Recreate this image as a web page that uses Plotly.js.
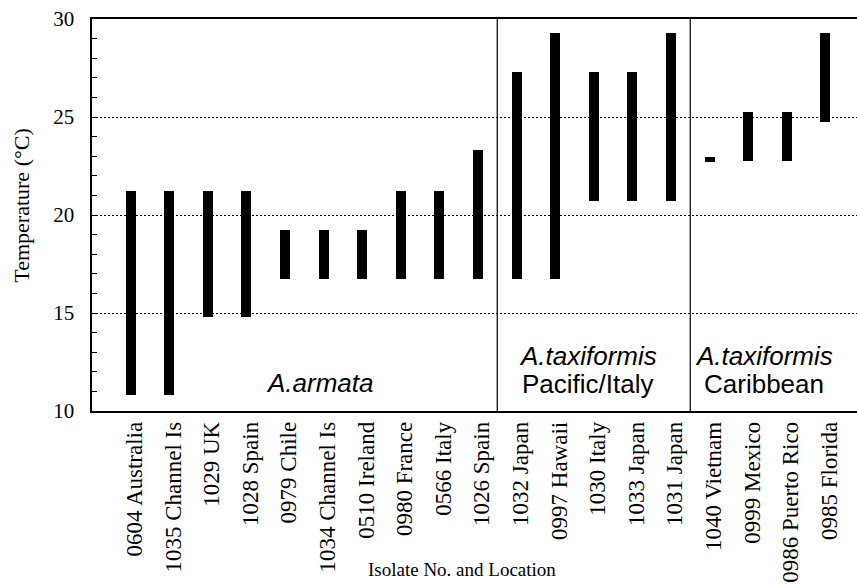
<!DOCTYPE html>
<html>
<head>
<meta charset="utf-8">
<script src="https://cdn.plot.ly/plotly-3.0.1.min.js"></script>
<style>
html,body{margin:0;padding:0;background:#fff;overflow:hidden;}
#chart{width:862px;height:585px;}
</style>
</head>
<body>
<div id="chart"></div>
<script>
// Isolates (x categories)
const isolates = [
  "0604 Australia", "1035 Channel Is", "1029 UK", "1028 Spain", "0979 Chile",
  "1034 Channel Is", "0510 Ireland", "0980 France", "0566 Italy", "1026 Spain",
  "1032 Japan", "0997 Hawaii", "1030 Italy", "1033 Japan", "1031 Japan",
  "1040 Vietnam", "0999 Mexico", "0986 Puerto Rico", "0985 Florida"
];
// Temperature range (°C) for each isolate
const tempLow  = [10.8, 10.8, 14.8, 14.8, 16.75, 16.75, 16.75, 16.75, 16.75, 16.75,
                  16.75, 16.75, 20.7, 20.7, 20.7, 22.72, 22.75, 22.75, 24.75];
const tempHigh = [21.2, 21.2, 21.2, 21.2, 19.25, 19.25, 19.25, 21.2, 21.2, 23.3,
                  27.3, 29.3, 27.3, 27.3, 29.3, 22.95, 25.25, 25.25, 29.3];
// Groups (number of isolates in each)
const groupNames = ["A.armata", "A.taxiformis Pacific/Italy", "A.taxiformis Caribbean"];
const groupSizes = [10, 5, 4];
const yTicks = [10, 15, 20, 25, 30];

const spans = tempHigh.map((h, i) => h - tempLow[i]);

const trace = {
  type: "bar",
  x: isolates,
  y: spans,
  base: tempLow,
  width: 0.26,
  marker: {color: "#000", line: {width: 0}},
  hoverinfo: "skip"
};

// divider lines between groups
const shapes = [];
let cum = 0;
for (let g = 0; g < groupSizes.length - 1; g++) {
  cum += groupSizes[g];
  shapes.push({
    type: "line", xref: "x", yref: "paper",
    x0: cum - 0.5, x1: cum - 0.5, y0: 0, y1: 1,
    line: {color: "#000", width: 1.2}
  });
}

const sans = "Liberation Sans, Arial, sans-serif";
const serif = "Liberation Serif, Times New Roman, serif";

const annotations = [
  {text: "<i>A.armata</i>", x: 4.92, y: 11.44, xref: "x", yref: "y",
   showarrow: false, font: {family: sans, size: 26, color: "#000"}},
  {text: "<i>A.taxiformis</i>", x: 11.84, y: 12.82, xref: "x", yref: "y",
   showarrow: false, font: {family: sans, size: 26, color: "#000"}},
  {text: "Pacific/Italy", x: 11.84, y: 11.4, xref: "x", yref: "y",
   showarrow: false, font: {family: sans, size: 26, color: "#000"}},
  {text: "<i>A.taxiformis</i>", x: 16.4, y: 12.82, xref: "x", yref: "y",
   showarrow: false, font: {family: sans, size: 26, color: "#000"}},
  {text: "Caribbean", x: 16.4, y: 11.4, xref: "x", yref: "y",
   showarrow: false, font: {family: sans, size: 26, color: "#000"}},
  // axis titles
  {text: "Isolate No. and Location", xref: "paper", yref: "paper",
   x: (462 - 92) / 770, y: -0.0, yshift: -158, xanchor: "center", yanchor: "middle",
   showarrow: false, font: {family: serif, size: 19, color: "#000"}},
  {text: "Temperature (°C)", xref: "paper", yref: "paper",
   x: 0, xshift: -70, y: (411.3 - 206) / 392, xanchor: "center", yanchor: "middle",
   textangle: -90, showarrow: false, font: {family: serif, size: 22, color: "#000"}}
];

const layout = {
  width: 862, height: 585,
  margin: {l: 92, r: 0, t: 19, b: 174, pad: 0},
  paper_bgcolor: "#fff", plot_bgcolor: "#fff",
  showlegend: false,
  bargap: 0,
  xaxis: {
    type: "category",
    range: [-1, 18.95],
    showline: true, linecolor: "#000", linewidth: 1.6, mirror: true,
    ticks: "", showgrid: false, zeroline: false,
    tickangle: -90,
    ticklabelshift: 4,
    tickfont: {family: serif, size: 23, color: "#000"},
    automargin: false
  },
  yaxis: {
    range: [10, 30],
    tickvals: yTicks,
    ticktext: yTicks.map(String),
    showline: true, linecolor: "#000", linewidth: 1.6, mirror: "allticks",
    ticks: "inside", ticklen: 5, tickcolor: "#000", tickwidth: 1,
    minor: {dtick: 1, tick0: 10, ticks: "inside", ticklen: 5, tickcolor: "#000", tickwidth: 1, showgrid: false},
    showgrid: true, gridcolor: "#000", gridwidth: 1, griddash: "2px,2px",
    zeroline: false,
    tickfont: {family: serif, size: 21, color: "#000"},
    ticklabelstandoff: 12,
    automargin: false
  },
  shapes: shapes,
  annotations: annotations
};

Plotly.newPlot("chart", [trace], layout, {staticPlot: true, displayModeBar: false});
</script>
</body>
</html>
